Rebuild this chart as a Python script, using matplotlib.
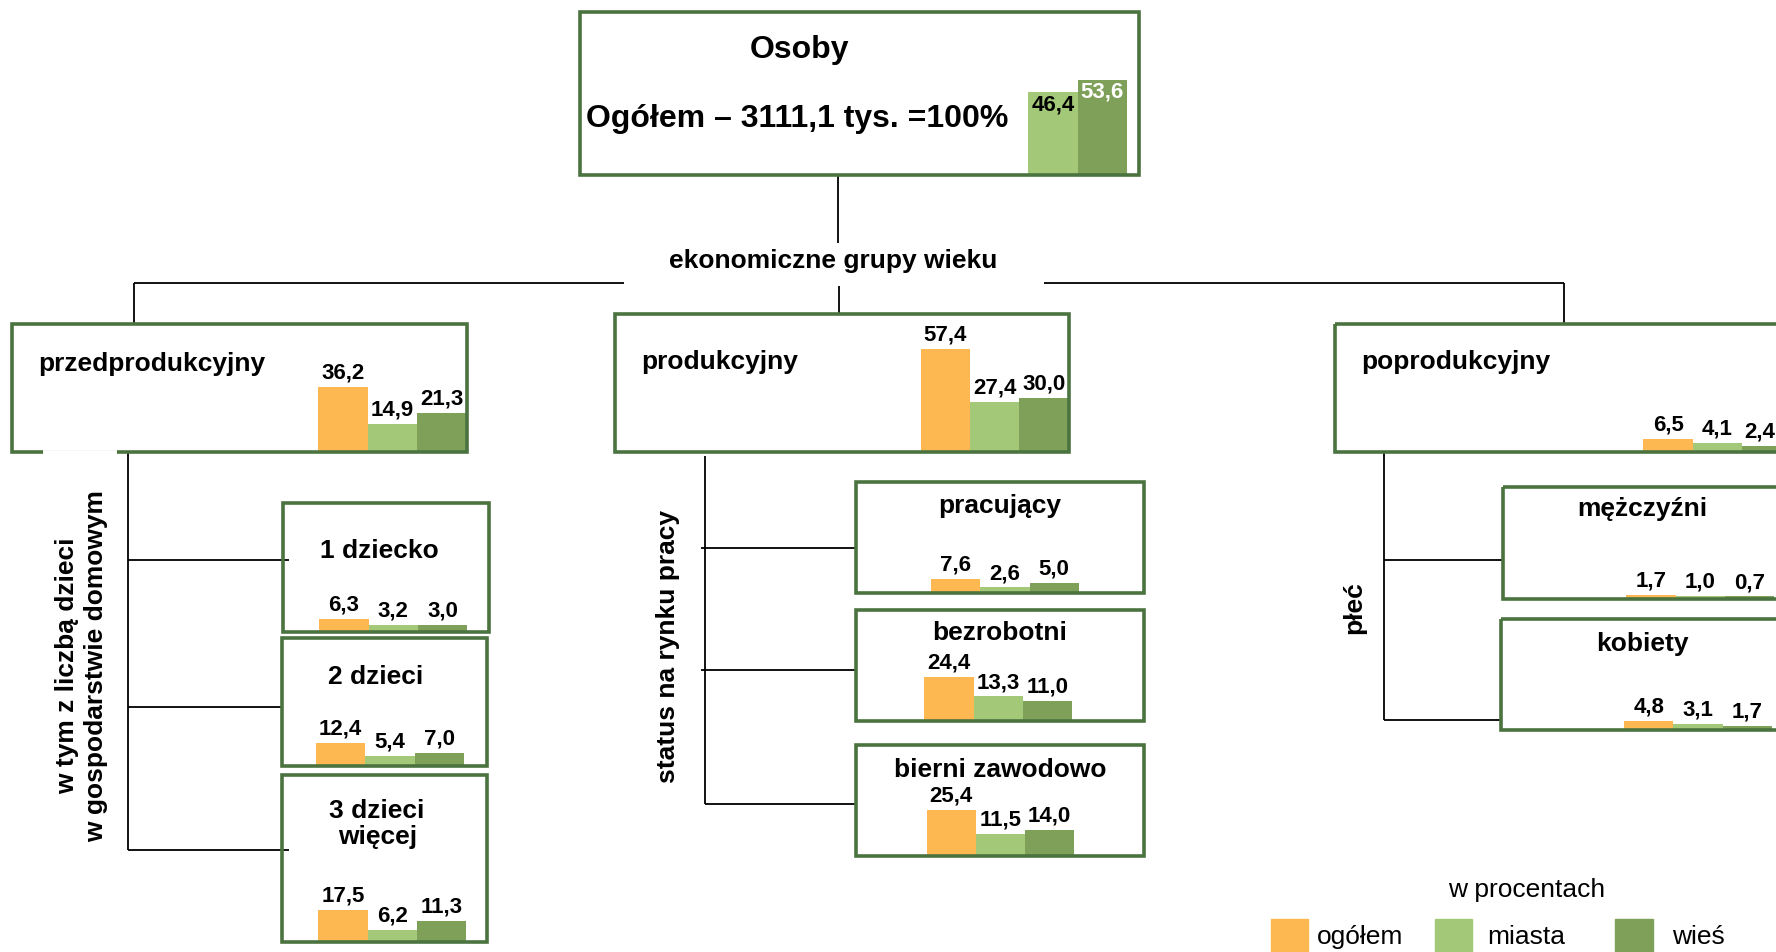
import matplotlib
matplotlib.use('Agg')
import matplotlib.pyplot as plt
from matplotlib.patches import Rectangle

plt.rcParams['font.family'] = ['Liberation Sans', 'DejaVu Sans']

# --- data (percent) ---
series = ['ogółem', 'miasta', 'wieś']
colors = ['#FDB851', '#A3C978', '#7FA058']

top_title = 'Osoby'
top_subtitle = 'Ogółem – 3111,1 tys. =100%'
top_values = [46.4, 53.6]          # miasta, wieś

groups = ['przedprodukcyjny', 'produkcyjny', 'poprodukcyjny']
group_values = [[36.2, 14.9, 21.3], [57.4, 27.4, 30.0], [6.5, 4.1, 2.4]]

children = ['1 dziecko', '2 dzieci', '3 dzieci\nwięcej']
children_values = [[6.3, 3.2, 3.0], [12.4, 5.4, 7.0], [17.5, 6.2, 11.3]]

status = ['pracujący', 'bezrobotni', 'bierni zawodowo']
status_values = [[7.6, 2.6, 5.0], [24.4, 13.3, 11.0], [25.4, 11.5, 14.0]]

sex = ['mężczyźni', 'kobiety']
sex_values = [[1.7, 1.0, 0.7], [4.8, 3.1, 1.7]]

border = '#4A7340'
k = 1.56        # px per percent
bw = 43.5       # bar width
fs_big, fs, fs_val = 23, 19, 16
right_edge = 1568

fig = plt.figure(figsize=(17.76, 9.52), dpi=100)
ax = fig.add_axes([0, 0, 1, 1])
ax.set_xlim(0, right_edge)
ax.set_ylim(841, 0)
ax.axis('off')


def fmt(v):
    return f'{v:.1f}'.replace('.', ',')


def box(x0, y0, x1, y1):
    ax.add_patch(Rectangle((x0, y0), x1 - x0, y1 - y0, fill=False,
                           ec=border, lw=2.6, zorder=3))


def bars(vals, xstart, base, cols, inside=False, txtcols=None):
    xs = [xstart + i * bw for i in range(len(vals))]
    ax.bar(xs, [-v * k for v in vals], bottom=base, width=bw, align='edge',
           color=cols, zorder=2)
    for i, (x, v) in enumerate(zip(xs, vals)):
        if inside:
            ax.text(x + bw / 2, base - v * k + 2, fmt(v), ha='center', va='top',
                    fontsize=fs_val, weight='bold', color=txtcols[i], zorder=5)
        else:
            cx, ha = x + bw / 2, 'center'
            if cx + 16 > right_edge:   # keep the label inside the picture
                cx, ha = right_edge - 1, 'right'
            ax.text(cx, base - v * k - 3, fmt(v), ha=ha, va='bottom',
                    fontsize=fs_val, weight='bold', zorder=5)


def line(xs, ys):
    ax.plot(xs, ys, color='black', lw=1.3, zorder=1, solid_capstyle='butt')


# top box
box(512, 11, 1006, 155)
ax.text(706, 44, top_title, ha='center', va='center', fontsize=fs_big, weight='bold')
ax.text(517, 105, top_subtitle, ha='left', va='center', fontsize=fs_big, weight='bold')
bars(top_values, 908, 154, colors[1:], inside=True, txtcols=['black', 'white'])

# connectors from top
line([740, 740], [155, 215])
line([741, 741], [253, 277])
ax.text(736, 231, 'ekonomiczne grupy wieku', ha='center', va='center',
        fontsize=fs, weight='bold')
line([118, 551], [250, 250])
line([922, 1381], [250, 250])
line([118, 118], [250, 286])
line([1381, 1381], [250, 286])

# economic age groups
group_boxes = [(11, 286, 412, 399), (543, 277, 944, 399), (1179, 286, 1600, 399)]
group_bar_x = [281, 813, 1451]
group_title_pos = [(34, 322), (566, 320), (1202, 320)]
for name, vals, bx, bxs, tp in zip(groups, group_values, group_boxes, group_bar_x, group_title_pos):
    box(*bx)
    bars(vals, bxs, bx[3] - 1, colors)
    ax.text(tp[0], tp[1], name, ha='left', va='center', fontsize=fs, weight='bold')
# gap in the bottom border of the first box
ax.plot([40, 101], [399, 399], color='white', lw=3.5, zorder=4)

# children
line([113, 113], [399, 751])
for y, x1 in zip([495, 625, 751], [255, 249, 255]):
    line([113, x1], [y, y])
ax.text(72, 588, 'w tym z liczbą dzieci\nw gospodarstwie domowym', rotation=90,
        ha='center', va='center', multialignment='center', fontsize=fs,
        weight='bold', linespacing=1.3)
child_boxes = [(250, 444, 432, 558), (249, 564, 430, 677), (249, 685, 430, 832)]
child_bar_x = [282, 279, 281]
child_title_pos = [(335, 487), (332, 598), (333, 728)]
for name, vals, bx, bxs, tp in zip(children, children_values, child_boxes, child_bar_x, child_title_pos):
    box(*bx)
    bars(vals, bxs, bx[3] - 1, colors)
    ax.text(tp[0], tp[1], name, ha='center', va='center', fontsize=fs,
            weight='bold', linespacing=1.1)

# labour market status
line([622, 622], [403, 710])
for y, x0 in zip([484, 592, 710], [619, 619, 622]):
    line([x0, 757], [y, y])
ax.text(590, 571, 'status na rynku pracy', rotation=90, ha='center', va='center',
        fontsize=fs, weight='bold')
status_boxes = [(756, 426, 1010, 524), (756, 539, 1010, 637), (756, 658, 1010, 756)]
status_bar_x = [822, 816, 818]
status_title_pos = [(883, 447), (883, 559), (883, 680)]
for name, vals, bx, bxs, tp in zip(status, status_values, status_boxes, status_bar_x, status_title_pos):
    box(*bx)
    bars(vals, bxs, bx[3] - 1, colors)
    ax.text(tp[0], tp[1], name, ha='center', va='center', fontsize=fs, weight='bold')

# sex
line([1222, 1222], [398, 636])
line([1222, 1327], [495, 495])
line([1222, 1325], [636, 636])
ax.text(1196, 537, 'płeć', rotation=90, ha='center', va='center',
        fontsize=fs, weight='bold')
sex_boxes = [(1327, 430, 1600, 529), (1325, 547, 1600, 645)]
sex_bar_x = [1436, 1434]
sex_title_pos = [(1450, 450), (1450, 569)]
for name, vals, bx, bxs, tp in zip(sex, sex_values, sex_boxes, sex_bar_x, sex_title_pos):
    box(*bx)
    bars(vals, bxs, bx[3] - 1, colors)
    ax.text(tp[0], tp[1], name, ha='center', va='center', fontsize=fs, weight='bold')

# legend
ax.text(1348, 786, 'w procentach', ha='center', va='center', fontsize=fs)
for name, c, sx, tx in zip(series, colors, [1122, 1267, 1426], [1163, 1313, 1476]):
    ax.add_patch(Rectangle((sx, 812), 33, 35, color=c, zorder=2))
    ax.text(tx, 828, name, ha='left', va='center', fontsize=fs)

fig.savefig('out.png', dpi=100)
